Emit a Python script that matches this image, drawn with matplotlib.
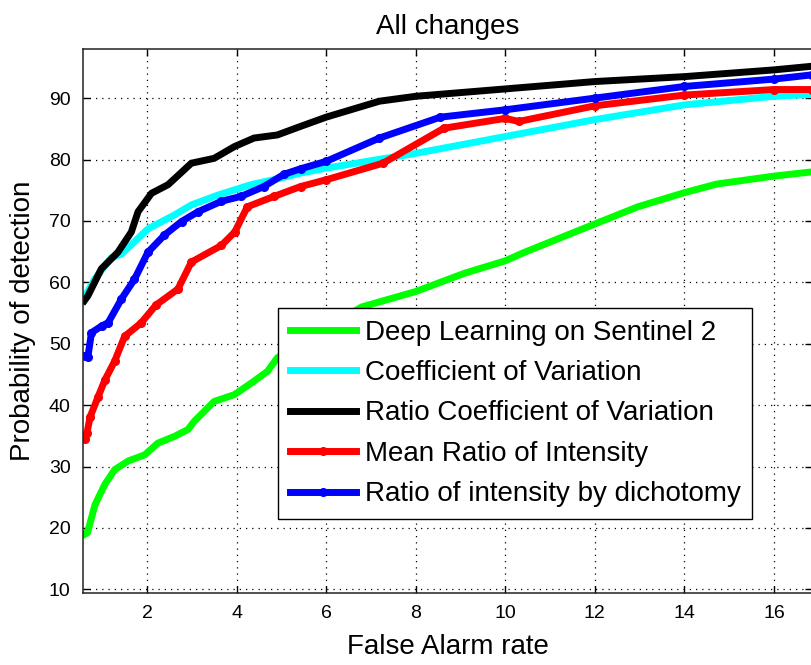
import matplotlib
matplotlib.use('Agg')
import matplotlib.pyplot as plt

# ── Data ────────────────────────────────────────────────────────────
dl_x = [0.62, 0.67, 0.84, 1.06, 1.28, 1.58, 1.95, 2.24, 2.61, 2.91, 3.06, 3.5, 3.95,
        4.39, 4.69, 4.91, 5.5, 6.2, 6.8, 8.0, 9.1, 10.0, 10.4, 12.0, 12.96, 14.0,
        14.72, 16.0, 16.86]
dl_y = [19.0, 19.2, 23.8, 27.1, 29.5, 30.9, 31.9, 33.8, 34.9, 36.0, 37.4, 40.6, 41.7,
        43.9, 45.5, 47.7, 50.5, 53.5, 56.0, 58.5, 61.5, 63.5, 64.8, 69.5, 72.3, 74.6,
        76.0, 77.3, 78.0]

cv_x = [0.6, 0.83, 1.2, 1.43, 2.02, 2.62, 2.99, 3.58, 4.32, 5.0, 5.43, 6.0, 8.0,
        10.0, 12.0, 14.0, 16.0, 16.86]
cv_y = [57.5, 60.5, 64.0, 64.6, 68.7, 71.0, 72.6, 74.2, 75.9, 77.0, 77.8, 78.6, 81.0,
        83.75, 86.5, 88.9, 90.3, 90.6]

rcv_x = [0.6, 0.68, 0.98, 1.35, 1.65, 1.8, 2.1, 2.47, 2.99, 3.5, 3.95, 4.39, 4.91,
         5.43, 6.0, 7.19, 8.0, 10.0, 12.0, 14.0, 16.0, 16.86]
rcv_y = [57.0, 57.8, 62.2, 64.9, 68.2, 71.5, 74.5, 75.9, 79.4, 80.2, 82.1, 83.5, 84.0,
         85.4, 86.9, 89.5, 90.3, 91.5, 92.7, 93.5, 94.6, 95.2]

mri_x = [0.62, 0.66, 0.73, 0.91, 1.06, 1.28, 1.5, 1.87, 2.2, 2.69, 2.99, 3.66, 3.96,
         4.24, 4.84, 5.43, 6.0, 7.27, 8.63, 10.0, 10.3, 12.0, 14.0, 16.0, 16.86]
mri_y = [34.5, 35.5, 38.1, 41.4, 44.1, 47.2, 51.2, 53.4, 56.3, 58.9, 63.3, 66.0, 68.2,
         72.3, 74.0, 75.6, 76.7, 79.4, 85.1, 86.7, 86.2, 88.75, 90.5, 91.4, 91.4]

rid_x = [0.62, 0.68, 0.76, 0.99, 1.13, 1.43, 1.72, 2.02, 2.39, 2.77, 3.14, 3.66, 4.1,
         4.61, 5.06, 5.43, 6.0, 7.19, 8.55, 10.0, 12.0, 14.0, 16.0, 16.86]
rid_y = [48.0, 47.9, 51.8, 52.9, 53.4, 57.3, 60.5, 64.9, 67.7, 69.9, 71.5, 73.2, 74.0,
         75.6, 77.6, 78.5, 79.7, 83.5, 86.9, 88.1, 90.0, 91.9, 93.1, 93.8]

labels = ['Deep Learning on Sentinel 2', 'Coefficient of Variation',
          'Ratio Coefficient of Variation', 'Mean Ratio of Intensity',
          'Ratio of intensity by dichotomy']
x_ticks = [2, 4, 6, 8, 10, 12, 14, 16]
y_ticks = [10, 20, 30, 40, 50, 60, 70, 80, 90]

plt.rcParams['font.family'] = ['Liberation Sans', 'DejaVu Sans']

fig = plt.figure(figsize=(8.12, 6.65), dpi=100, facecolor='white')
ax = fig.add_axes([0.1022, 0.1083, 0.8978, 0.8180])

LW = 5
ax.plot(dl_x, dl_y, color='#00ff00', lw=LW, label=labels[0])
ax.plot(cv_x, cv_y, color='#00ffff', lw=LW, label=labels[1])
ax.plot(rcv_x, rcv_y, color='black', lw=LW, label=labels[2])
ax.plot(mri_x, mri_y, color='red', lw=LW, marker='.', ms=11, label=labels[3])
ax.plot(rid_x, rid_y, color='blue', lw=LW, marker='.', ms=11, label=labels[4])

ax.set_xlim(0.57, 16.85)
ax.set_ylim(9.4, 98.0)
ax.set_xticks(x_ticks)
ax.set_yticks(y_ticks)
ax.tick_params(direction='in', length=5, width=1, labelsize=14, top=True, right=True,
               pad=9)
ax.grid(True, color='black', linestyle=(0, (1, 4)), linewidth=0.9)

for side, spine in ax.spines.items():
    spine.set_linewidth(1.1)
    spine.set_color('#222222')
ax.spines['right'].set_visible(False)

ax.set_title('All changes', fontsize=20, pad=11)
ax.set_xlabel('False Alarm rate', fontsize=20, labelpad=8)
ax.set_ylabel('Probability of detection', fontsize=20, labelpad=9)

leg = ax.legend(loc='upper left', bbox_to_anchor=(0.2675, 0.524), borderaxespad=0,
                fontsize=20, frameon=True, fancybox=False, edgecolor='black',
                framealpha=1, handlelength=2.4, handletextpad=0.3,
                labelspacing=0.52, borderpad=0.42, markerscale=1.0)
leg.get_frame().set_linewidth(1.0)
leg.set_zorder(5)

fig.savefig('out.png', dpi=100, facecolor='white')
